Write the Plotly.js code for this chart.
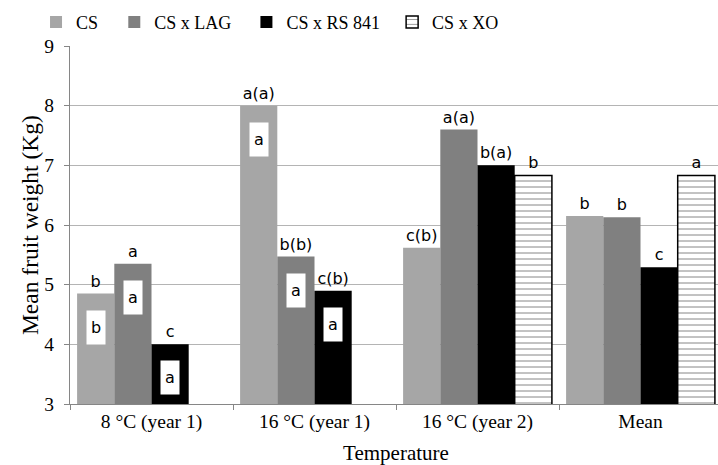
<!DOCTYPE html>
<html><head><meta charset="utf-8">
<script src="https://cdn.plot.ly/plotly-3.0.1.min.js"></script>
<style>html,body{margin:0;padding:0;overflow:hidden;background:#fff}</style>
</head><body>
<div id="chart" style="width:722px;height:465px"></div>
<script>
const categories = ["8 °C (year 1)", "16 °C (year 1)", "16 °C (year 2)", "Mean"];
const seriesNames = ["CS", "CS x LAG", "CS x RS 841", "CS x XO"];
const csValues  = [4.85, 8.0, 5.62, 6.15];
const lagValues = [5.35, 5.47, 7.6, 6.13];
const rsValues  = [4.0, 4.9, 7.0, 5.29];
const xoValues  = [null, null, 6.83, 6.83];
const csLabels  = ["b", "a(a)", "c(b)", "b"];
const lagLabels = ["a", "b(b)", "a(a)", "b"];
const rsLabels  = ["c", "c(b)", "b(a)", "c"];
const xoLabels  = ["", "", "b", "a"];
const csInner  = ["b", "a", null, null];
const lagInner = ["a", "a", null, null];
const rsInner  = ["a", "a", null, null];
const yTitle = "Mean fruit weight (Kg)";

const serif = "Liberation Serif, Times New Roman, serif";
const sans = "DejaVu Sans, Verdana, sans-serif";
const bargap = 0.087;
const nSeries = 4;
const slot = (1 - bargap) / nSeries;
const legendIds = ['legend', 'legend2', 'legend3', 'legend4'];
const legendX = [0.0499, 0.1583, 0.3413, 0.5431];

function barTrace(k, vals, labels, color, extra) {
  const t = {
    type: 'bar', name: seriesNames[k], legend: legendIds[k], x: categories, y: vals,
    text: labels, textposition: 'outside', constraintext: 'none', cliponaxis: false,
    textfont: {family: sans, size: 16, color: '#000'},
    marker: {color: color, line: {width: 0}},
    hoverinfo: 'skip'
  };
  return Object.assign(t, extra || {});
}

const traces = [
  barTrace(0, csValues, csLabels, '#A6A6A6'),
  barTrace(1, lagValues, lagLabels, '#808080'),
  barTrace(2, rsValues, rsLabels, '#000000'),
  barTrace(3, xoValues, xoLabels, '#ffffff', {
    marker: {color: '#ffffff', line: {width: 1.5, color: '#000'},
             pattern: {shape: '-', fgcolor: '#777', bgcolor: '#ffffff', size: 6, solidity: 0.15}}
  })
];

const innerSets = [[csInner, csValues], [lagInner, lagValues], [rsInner, rsValues]];
const annotations = [];
innerSets.forEach(([labs, vals], k) => {
  labs.forEach((lab, i) => {
    if (lab == null) return;
    annotations.push({
      x: i + (k - (nSeries - 1) / 2) * slot, y: vals[i], xref: 'x', yref: 'y',
      text: lab, showarrow: false, yanchor: 'top', yshift: -16,
      width: 18, height: 33, bgcolor: '#ffffff', borderpad: 0,
      font: {family: sans, size: 16, color: '#000'}
    });
  });
});
annotations.push({
  xref: 'paper', yref: 'paper', x: -0.0613, y: 0.5, xanchor: 'center', yanchor: 'middle',
  textangle: -90, showarrow: false, text: yTitle,
  font: {family: serif, size: 23.5, color: '#000'}
});

const layout = {
  width: 722, height: 465,
  margin: {l: 70, r: 0, t: 46, b: 61, autoexpand: false},
  paper_bgcolor: '#fff', plot_bgcolor: '#fff',
  barmode: 'group', bargap: bargap, bargroupgap: 0,
  showlegend: true,
  xaxis: {
    type: 'category', range: [-0.5, 3.5], tickson: 'boundaries',
    ticks: 'outside', ticklen: 5, tickcolor: '#868686',
    showline: true, linecolor: '#868686', linewidth: 1,
    showgrid: false, zeroline: false,
    tickfont: {family: serif, size: 19.5, color: '#000'},
    title: {text: 'Temperature', font: {family: serif, size: 21, color: '#000'}}
  },
  yaxis: {
    range: [3, 9], dtick: 1, tick0: 3,
    ticks: 'outside', ticklen: 5, tickcolor: '#868686',
    showline: true, linecolor: '#868686', linewidth: 1,
    showgrid: true, gridcolor: '#B4B4B4', gridwidth: 1, zeroline: false,
    ticklabelstandoff: 6,
    tickfont: {family: serif, size: 19.5, color: '#000'}
  },
  annotations: annotations
};
legendIds.forEach((id, k) => {
  layout[id] = {orientation: 'h', xref: 'container', x: legendX[k], xanchor: 'left',
                y: 1.118, yanchor: 'top',
                font: {family: serif, size: 18, color: '#000'}, bgcolor: 'rgba(0,0,0,0)'};
});

Plotly.newPlot('chart', traces, layout, {displayModeBar: false, staticPlot: true});
</script>
</body></html>
